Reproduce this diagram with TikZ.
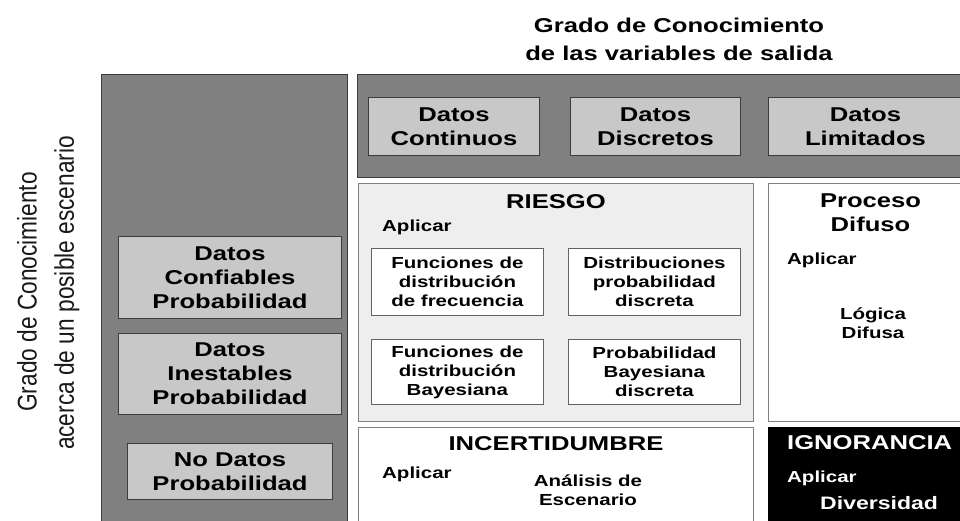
\documentclass[tikz,border=0pt]{standalone}
\usepackage{fontspec}
\usetikzlibrary{positioning}
\newfontfamily\boxfont[FakeStretch=1.28]{Liberation Sans}
\newfontfamily\sidefont[FakeStretch=0.84]{Liberation Sans}
\definecolor{panelgris}{HTML}{808080}
\definecolor{cajagris}{HTML}{C8C8C8}
\definecolor{celdagris}{HTML}{EEEEEE}
\definecolor{borde}{HTML}{3C3C3C}
\newcommand{\grande}{\boxfont\bfseries\fontsize{20}{24}\selectfont}
\newcommand{\chico}{\boxfont\bfseries\fontsize{16}{19}\selectfont}

\begin{document}
\begin{tikzpicture}[x=1pt,y=-1pt,
    panel/.style={draw=borde, line width=1pt, fill=panelgris, anchor=north west, inner sep=0pt},
    dato/.style={draw=borde, line width=1pt, fill=cajagris, anchor=north west, align=center, inner sep=0pt, text=black, font=\grande},
    celda/.style={draw=gray, line width=1pt, fill=#1, anchor=north west, inner sep=0pt},
    interior/.style={draw=borde!80, line width=0.8pt, fill=white, anchor=north west, align=center, inner sep=0pt, text=black, font=\chico},
    titulo/.style={font=\grande, text=black, align=center, inner sep=0pt},
    aplicar/.style={font=\chico, text=black, anchor=west, inner sep=0pt},
    lado/.style={font=\sidefont\fontsize{27}{30}\selectfont, text=black!90, rotate=90, inner sep=0pt}]
	\useasboundingbox (0,0) rectangle (960,520);
	\clip (0,0) rectangle (960,520);
    % titulos de los ejes
    \node[titulo, font=\boxfont\bfseries\fontsize{20}{28}\selectfont] (ejeX) at (679,39) {Grado de Conocimiento\\de las variables de salida};
    \node[lado] (ejeY1) at (27,292) {Grado de Conocimiento};
    \node[lado] (ejeY2) at (67,293) {acerca de un posible escenario};
    % paneles grises
    \node[panel, minimum width=246, minimum height=460] (izq) at (101,74) {};
    \node[panel, minimum width=620, minimum height=103] (sup) at (357,74) {};
    % datos de salida
    \node[dato, minimum width=171, minimum height=58] (continuos) at (368,97) {Datos\\Continuos};
    \node[dato, minimum width=170, minimum height=58] (discretos) at (570,97) {Datos\\Discretos};
    \node[dato, minimum width=194, minimum height=58] (limitados) at (768,97) {Datos\\Limitados};
    % datos del escenario
    \node[dato, minimum width=223, minimum height=82] (confiables) at (118,236) {Datos\\Confiables\\Probabilidad};
    \node[dato, minimum width=223, minimum height=81] (inestables) at (118,333) {Datos\\Inestables\\Probabilidad};
    \node[dato, minimum width=205, minimum height=56] (nodatos) at (127,443) {No Datos\\Probabilidad};
    % celdas
    \node[celda=celdagris, minimum width=395, minimum height=238] (riesgo) at (358,183) {};
    \node[celda=white, minimum width=204, minimum height=238] (difuso) at (768,183) {};
    \node[celda=white, minimum width=395, minimum height=110] (incert) at (358,427) {};
    \node[celda=black, draw=black, minimum width=204, minimum height=110] (ignor) at (768,427) {};
    % riesgo
    \node[titulo, below=11pt of riesgo.north] (riesgoT) {RIESGO};
    \node[aplicar] (riesgoA) at (382,227) {Aplicar};
    \node[interior, minimum width=172, minimum height=67] (frecuencia) at (371,248) {Funciones de\\distribución\\de frecuencia};
    \node[interior, minimum width=172, minimum height=67] (discreta) at (568,248) {Distribuciones\\probabilidad\\discreta};
    \node[interior, minimum width=172, minimum height=65] (bayesiana) at (371,339) {Funciones de\\distribución\\Bayesiana};
    \node[interior, minimum width=172, minimum height=65] (bayesdisc) at (568,339) {Probabilidad\\Bayesiana\\discreta};
    % proceso difuso
    \node[titulo, below=11pt of difuso.north] (difusoT) {Proceso\\Difuso};
    \node[aplicar] (difusoA) at (787,260) {Aplicar};
    \node[titulo, font=\chico] (logica) at (873,323) {Lógica\\Difusa};
    % incertidumbre
    \node[titulo, below=9pt of incert.north] (incertT) {INCERTIDUMBRE};
    \node[aplicar] (incertA) at (382,474) {Aplicar};
    \node[titulo, font=\chico] (escenario) at (588,490) {Análisis de\\Escenario};
    % ignorancia
    \node[titulo, text=white, anchor=west] (ignorT) at (787,443) {IGNORANCIA};
    \node[aplicar, text=white] (ignorA) at (787,478) {Aplicar};
    \node[aplicar, text=white, font=\boxfont\bfseries\fontsize{18}{21}\selectfont] (diversidad) at (820,503) {Diversidad};
\end{tikzpicture}
\end{document}
